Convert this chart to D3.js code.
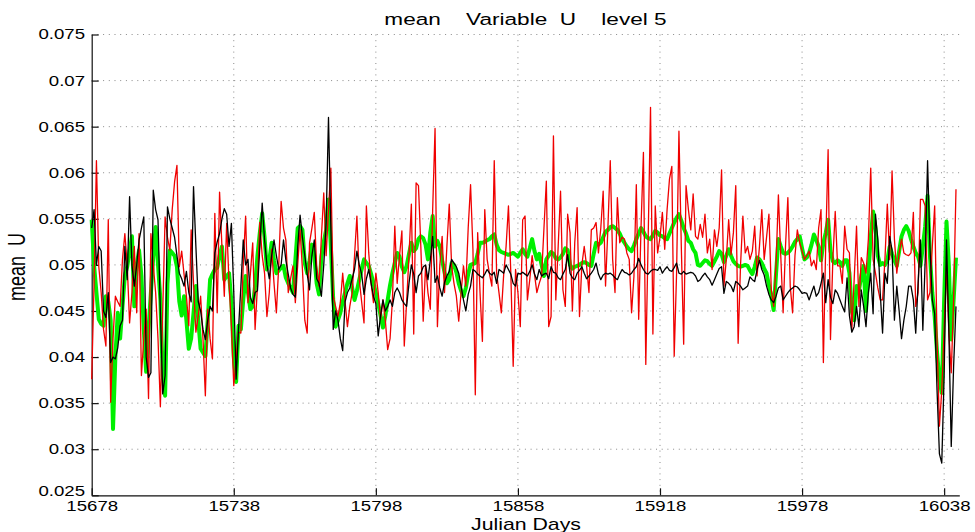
<!DOCTYPE html>
<html>
<head>
<meta charset="utf-8">
<script src="https://cdn.jsdelivr.net/npm/d3@7"></script>
<style>
body { margin: 0; background: #fff; }
text { font-family: "Liberation Sans", Arial, sans-serif; fill: #000; }
</style>
</head>
<body>
<div id="chart"></div>
<script>
// daily values, first day 15678
const startDay = 15678;
const xTicks = [15678, 15738, 15798, 15858, 15918, 15978, 16038];
const yTicks = [0.025, 0.03, 0.035, 0.04, 0.045, 0.05, 0.055, 0.06, 0.065, 0.07, 0.075];
const yTickLabels = ["0.025", "0.03", "0.035", "0.04", "0.045", "0.05", "0.055", "0.06", "0.065", "0.07", "0.075"];

const blackU = [.0540,.0560,.0500,.0520,.0515,.0450,.0443,.0470,.0394,.0400,
.0398,.0410,.0434,.0440,.0520,.0484,.0574,.0500,.0477,.0500,
.0527,.0540,.0552,.0400,.0378,.0383,.0581,.0560,.0549,.0450,
.0360,.0380,.0563,.0550,.0540,.0530,.0510,.0491,.0485,.0477,
.0493,.0470,.0460,.0585,.0520,.0460,.0450,.0430,.0419,.0440,
.0455,.0450,.0513,.0525,.0534,.0550,.0561,.0555,.0520,.0545,
.0470,.0376,.0430,.0477,.0527,.0500,.0506,.0465,.0458,.0470,
.0472,.0520,.0567,.0527,.0500,.0485,.0510,.0527,.0510,.0495,
.0500,.0527,.0505,.0490,.0475,.0468,.0465,.0520,.0554,.0530,
.0510,.0490,.0473,.0510,.0527,.0485,.0480,.0466,.0500,.0546,
.0660,.0540,.0430,.0450,.0440,.0420,.0407,.0460,.0470,.0475,
.0485,.0495,.0515,.0500,.0490,.0468,.0485,.0495,.0480,.0466,
.0458,.0423,.0445,.0462,.0450,.0455,.0462,.0455,.0470,.0475,
.0470,.0462,.0458,.0455,.0480,.0500,.0490,.0470,.0488,.0491,
.0498,.0500,.0484,.0505,.0531,.0481,.0488,.0475,.0466,.0481,
.0488,.0493,.0506,.0502,.0498,.0491,.0477,.0462,.0450,.0468,
.0477,.0495,.0493,.0490,.0488,.0486,.0490,.0495,.0491,.0489,
.0492,.0480,.0495,.0493,.0491,.0500,.0495,.0490,.0480,.0477,
.0491,.0490,.0492,.0490,.0488,.0493,.0500,.0490,.0484,.0495,
.0488,.0490,.0491,.0485,.0498,.0492,.0491,.0486,.0484,.0490,
.0495,.0511,.0491,.0486,.0484,.0491,.0494,.0498,.0491,.0485,
.0488,.0491,.0495,.0502,.0490,.0484,.0489,.0491,.0490,.0491,
.0489,.0486,.0484,.0490,.0495,.0492,.0491,.0489,.0491,.0495,
.0498,.0507,.0500,.0495,.0491,.0490,.0493,.0495,.0495,.0494,
.0498,.0491,.0495,.0498,.0494,.0493,.0497,.0502,.0491,.0490,
.0493,.0490,.0491,.0492,.0491,.0488,.0482,.0484,.0488,.0491,
.0487,.0484,.0478,.0484,.0490,.0496,.0498,.0469,.0482,.0480,
.0477,.0471,.0482,.0480,.0477,.0473,.0475,.0477,.0487,.0484,
.0482,.0495,.0505,.0495,.0489,.0477,.0468,.0462,.0459,.0466,
.0475,.0477,.0462,.0466,.0470,.0473,.0475,.0477,.0476,.0473,
.0469,.0470,.0469,.0462,.0470,.0477,.0466,.0470,.0480,.0491,
.0459,.0484,.0465,.0458,.0473,.0469,.0462,.0455,.0449,.0486,
.0445,.0427,.0433,.0455,.0433,.0473,.0455,.0433,.0470,.0491,
.0447,.0555,.0527,.0470,.0426,.0491,.0480,.0531,.0516,.0440,
.0477,.0450,.0420,.0440,.0455,.0477,.0477,.0462,.0426,.0480,
.0527,.0429,.0505,.0613,.0520,.0462,.0447,.0364,.0295,.0285,
.0380,.0527,.0426,.0303,.0390,.0455];

const greenU = [.0549,.0500,.0470,.0441,.0436,.0434,.0466,.0460,.0440,.0322,
.0400,.0448,.0420,.0455,.0488,.0498,.0515,.0531,.0455,.0500,
.0516,.0488,.0430,.0384,.0430,.0470,.0509,.0541,.0500,.0463,
.0380,.0358,.0480,.0516,.0513,.0510,.0498,.0460,.0445,.0466,
.0440,.0409,.0420,.0448,.0477,.0440,.0409,.0405,.0401,.0440,
.0484,.0490,.0495,.0497,.0510,.0520,.0484,.0488,.0491,.0460,
.0400,.0373,.0434,.0430,.0462,.0488,.0470,.0452,.0455,.0477,
.0510,.0535,.0556,.0530,.0495,.0505,.0524,.0505,.0491,.0494,
.0497,.0499,.0486,.0480,.0475,.0470,.0505,.0540,.0542,.0538,
.0502,.0491,.0505,.0522,.0510,.0480,.0468,.0509,.0525,.0538,
.0571,.0520,.0462,.0433,.0440,.0448,.0460,.0470,.0480,.0488,
.0475,.0462,.0472,.0484,.0495,.0506,.0502,.0499,.0490,.0480,
.0470,.0458,.0445,.0432,.0445,.0462,.0478,.0491,.0502,.0513,
.0509,.0498,.0492,.0499,.0512,.0524,.0515,.0518,.0528,.0531,
.0529,.0522,.0506,.0535,.0553,.0520,.0526,.0520,.0505,.0492,
.0480,.0484,.0502,.0500,.0492,.0480,.0472,.0466,.0475,.0490,
.0500,.0501,.0502,.0512,.0524,.0524,.0525,.0527,.0528,.0531,
.0533,.0522,.0516,.0514,.0513,.0512,.0511,.0512,.0513,.0511,
.0509,.0513,.0517,.0512,.0509,.0518,.0528,.0515,.0506,.0512,
.0500,.0488,.0506,.0510,.0514,.0512,.0507,.0506,.0508,.0512,
.0518,.0516,.0500,.0496,.0498,.0499,.0500,.0502,.0503,.0502,
.0500,.0499,.0512,.0524,.0522,.0524,.0530,.0536,.0538,.0541,
.0542,.0540,.0538,.0534,.0528,.0524,.0520,.0517,.0515,.0521,
.0528,.0534,.0540,.0536,.0531,.0529,.0528,.0532,.0537,.0535,
.0532,.0531,.0529,.0528,.0534,.0540,.0546,.0551,.0555,.0548,
.0540,.0534,.0526,.0524,.0517,.0513,.0500,.0499,.0502,.0505,
.0504,.0501,.0499,.0504,.0509,.0515,.0512,.0503,.0510,.0517,
.0510,.0504,.0501,.0499,.0498,.0499,.0500,.0499,.0494,.0490,
.0498,.0508,.0506,.0502,.0496,.0491,.0478,.0466,.0451,.0490,
.0528,.0520,.0513,.0512,.0513,.0516,.0520,.0525,.0528,.0531,
.0518,.0506,.0508,.0513,.0522,.0533,.0527,.0520,.0505,.0524,
.0535,.0549,.0515,.0504,.0502,.0505,.0503,.0499,.0505,.0505,
.0491,.0450,.0440,.0477,.0472,.0488,.0499,.0450,.0490,.0530,
.0558,.0540,.0510,.0500,.0502,.0500,.0505,.0520,.0512,.0505,
.0499,.0515,.0531,.0538,.0542,.0537,.0528,.0520,.0513,.0509,
.0499,.0520,.0542,.0575,.0510,.0470,.0444,.0405,.0375,.0361,
.0462,.0547,.0499,.0419,.0462,.0508];

const redU = [.0376,.0480,.0613,.0498,.0470,.0430,.0412,.0549,.0351,.0420,
.0466,.0460,.0455,.0506,.0534,.0500,.0437,.0470,.0520,.0448,
.0534,.0380,.0420,.0452,.0355,.0534,.0500,.0470,.0420,.0346,
.0450,.0552,.0530,.0516,.0560,.0590,.0608,.0498,.0515,.0490,
.0466,.0434,.0538,.0480,.0427,.0445,.0466,.0420,.0358,.0452,
.0420,.0398,.0556,.0448,.0579,.0520,.0466,.0545,.0480,.0434,
.0369,.0398,.0427,.0426,.0500,.0553,.0459,.0490,.0524,.0430,
.0477,.0546,.0510,.0491,.0444,.0470,.0517,.0480,.0448,.0500,
.0569,.0540,.0527,.0470,.0485,.0499,.0459,.0500,.0538,.0495,
.0440,.0426,.0524,.0540,.0557,.0499,.0477,.0530,.0578,.0510,
.0560,.0605,.0466,.0455,.0444,.0459,.0491,.0460,.0433,.0455,
.0470,.0510,.0553,.0484,.0460,.0437,.0564,.0513,.0480,.0459,
.0491,.0470,.0441,.0462,.0440,.0408,.0420,.0462,.0542,.0480,
.0510,.0537,.0412,.0460,.0510,.0566,.0425,.0589,.0586,.0520,
.0439,.0499,.0470,.0452,.0560,.0648,.0433,.0499,.0531,.0470,
.0520,.0566,.0499,.0480,.0466,.0439,.0470,.0499,.0477,.0540,
.0587,.0517,.0359,.0535,.0470,.0417,.0560,.0506,.0490,.0477,
.0613,.0491,.0470,.0448,.0490,.0520,.0564,.0491,.0390,.0495,
.0470,.0433,.0549,.0553,.0462,.0484,.0510,.0490,.0470,.0480,
.0488,.0540,.0591,.0433,.0444,.0640,.0462,.0520,.0580,.0473,
.0455,.0555,.0535,.0450,.0524,.0562,.0444,.0500,.0520,.0499,
.0470,.0538,.0540,.0546,.0513,.0540,.0580,.0477,.0540,.0613,
.0506,.0470,.0573,.0524,.0530,.0528,.0513,.0506,.0448,.0488,
.0587,.0441,.0542,.0622,.0392,.0528,.0671,.0425,.0564,.0513,
.0530,.0557,.0517,.0560,.0593,.0607,.0401,.0491,.0645,.0520,
.0414,.0586,.0560,.0538,.0577,.0531,.0528,.0544,.0530,.0555,
.0513,.0528,.0495,.0538,.0520,.0540,.0603,.0477,.0506,.0549,
.0511,.0535,.0586,.0415,.0499,.0553,.0513,.0520,.0506,.0515,
.0542,.0488,.0520,.0560,.0506,.0530,.0555,.0473,.0455,.0500,
.0576,.0510,.0448,.0520,.0573,.0477,.0448,.0510,.0538,.0524,
.0515,.0506,.0510,.0515,.0499,.0505,.0495,.0540,.0560,.0394,
.0524,.0625,.0419,.0506,.0558,.0499,.0499,.0480,.0542,.0517,
.0513,.0430,.0484,.0542,.0455,.0508,.0502,.0491,.0528,.0605,
.0506,.0491,.0475,.0462,.0462,.0506,.0566,.0506,.0602,.0528,
.0491,.0513,.0528,.0513,.0511,.0510,.0513,.0557,.0455,.0470,
.0571,.0571,.0564,.0462,.0470,.0520,.0564,.0419,.0325,.0364,
.0430,.0499,.0426,.0383,.0462,.0582];

const days = blackU.map((d, i) => startDay + i);

const width = 975;
const height = 532;
const stretch = "scale(1.33,1)";

const svg = d3.select("#chart")
    .append("svg")
    .attr("width", width)
    .attr("height", height);

const x = d3.scaleLinear()
    .domain([15678, 16044.4])
    .range([91.7, 959.3]);

const y = d3.scaleLinear()
    .domain([0.025, 0.075])
    .range([495.3, 34.5]);

// dotted grid
const grid = svg.append("g")
    .attr("stroke", "#8a8a8a")
    .attr("stroke-width", 1)
    .attr("stroke-dasharray", "1,4.7");

grid.selectAll(".gx")
    .data(xTicks.slice(1))
    .join("line")
    .attr("x1", d => x(d)).attr("x2", d => x(d))
    .attr("y1", y(0.075)).attr("y2", y(0.025));

grid.selectAll(".gy")
    .data(yTicks.slice(1))
    .join("line")
    .attr("x1", x(15678)).attr("x2", x(16044.4))
    .attr("y1", d => y(d)).attr("y2", d => y(d));

// axes
const xAxis = svg.append("g")
    .attr("transform", `translate(0,${y(0.025)})`)
    .call(d3.axisBottom(x)
        .tickValues(xTicks)
        .tickFormat(d3.format("d"))
        .tickSize(-7)
        .tickSizeOuter(0)
        .tickPadding(6));

const yAxis = svg.append("g")
    .attr("transform", `translate(${x(15678)},0)`)
    .call(d3.axisLeft(y)
        .tickValues(yTicks)
        .tickFormat((d, i) => yTickLabels[i])
        .tickSize(-7)
        .tickSizeOuter(0)
        .tickPadding(5));

[xAxis, yAxis].forEach(g => {
    g.attr("color", "#111");
    g.selectAll("path, line").attr("stroke-width", 1.2);
    g.selectAll("text")
        .attr("font-size", 14)
        .attr("font-family", "Liberation Sans, Arial, sans-serif")
        .attr("transform", stretch);
});

// lowest y label sits a little higher so it clears the first x label
yAxis.selectAll("text")
    .filter(d => d === 0.025)
    .attr("dy", "0em");

// series
const line = d3.line()
    .x((d, i) => x(days[i]))
    .y(d => y(d));

svg.append("path")
    .datum(greenU)
    .attr("fill", "none")
    .attr("stroke", "#00f000")
    .attr("stroke-width", 4)
    .attr("stroke-linejoin", "round")
    .attr("d", line);

svg.append("path")
    .datum(redU)
    .attr("fill", "none")
    .attr("stroke", "#f00000")
    .attr("stroke-width", 1.3)
    .attr("stroke-linejoin", "round")
    .attr("d", line);

svg.append("path")
    .datum(blackU)
    .attr("fill", "none")
    .attr("stroke", "#000")
    .attr("stroke-width", 1.3)
    .attr("stroke-linejoin", "round")
    .attr("d", line);

// labels
svg.append("text")
    .attr("transform", `translate(525.5,25) ${stretch}`)
    .attr("text-anchor", "middle")
    .attr("font-size", 17)
    .attr("xml:space", "preserve")
    .style("white-space", "pre")
    .text("mean    Variable  U    level 5");

svg.append("text")
    .attr("transform", `translate(526,529.5) ${stretch}`)
    .attr("text-anchor", "middle")
    .attr("font-size", 16)
    .text("Julian Days");

svg.append("text")
    .attr("transform", `translate(25,267) ${stretch} rotate(-90)`)
    .attr("text-anchor", "middle")
    .attr("font-size", 18)
    .attr("xml:space", "preserve")
    .style("white-space", "pre")
    .text("mean  U");
</script>
</body>
</html>
